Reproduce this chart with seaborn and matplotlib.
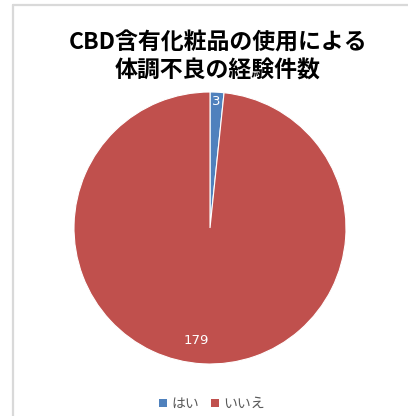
import numpy as np
import matplotlib
matplotlib.use("Agg")
import matplotlib.pyplot as plt
import seaborn as sns
from matplotlib.lines import Line2D
from matplotlib.patches import Patch

categories = ["はい", "いいえ"]
values = [3, 179]
colors = ["#4F81BD", "#C0504D"]
title = "CBD含有化粧品の使用による\n体調不良の経験件数"

sns.set_theme(style="white")
plt.rcParams['font.family'] = ['Noto Sans CJK JP', 'DejaVu Sans']

W, H = 408, 416
fig = plt.figure(figsize=(W / 100, H / 100), dpi=100)
fig.patch.set_facecolor("white")

# frame lines
fig.add_artist(Line2D([13 / W, 1], [1 - 5 / H, 1 - 5 / H], color="#d9d9d9", lw=1.6))
fig.add_artist(Line2D([13 / W, 13 / W], [0, 1 - 5 / H], color="#d9d9d9", lw=1.6))

cx, cy, r = 210, 228, 136
ax = fig.add_axes([(cx - r) / W, (H - cy - r) / H, 2 * r / W, 2 * r / H])
wedges, _ = ax.pie(values, colors=colors, startangle=90, counterclock=False,
                   radius=1, wedgeprops=dict(edgecolor="white", linewidth=0.8))
ax.set_xlim(-1, 1)
ax.set_ylim(-1, 1)
ax.axis("off")

label_r = [0.93, 0.83]
for w, v, lr in zip(wedges, values, label_r):
    mid = np.deg2rad((w.theta1 + w.theta2) / 2)
    ax.text(lr * np.cos(mid) - (0.06 if v > 100 else 0), lr * np.sin(mid), str(v),
            ha="center", va="center", color="white", fontsize=9.5,
            family=['DejaVu Sans'])

fig.text(218 / W, 1 - 57 / H, title, ha="center", va="center", fontsize=16.5,
         fontweight="bold", color="black", linespacing=1.25)

handles = [Patch(facecolor=c, edgecolor="none") for c in colors]
fig.legend(handles, categories, loc="center", bbox_to_anchor=(212 / W, 1 - 404 / H),
           ncol=2, frameon=False, fontsize=10, handlelength=0.55, handleheight=0.55,
           handletextpad=0.3, columnspacing=0.9, labelcolor="#595959")

fig.savefig("out.png", dpi=100)
